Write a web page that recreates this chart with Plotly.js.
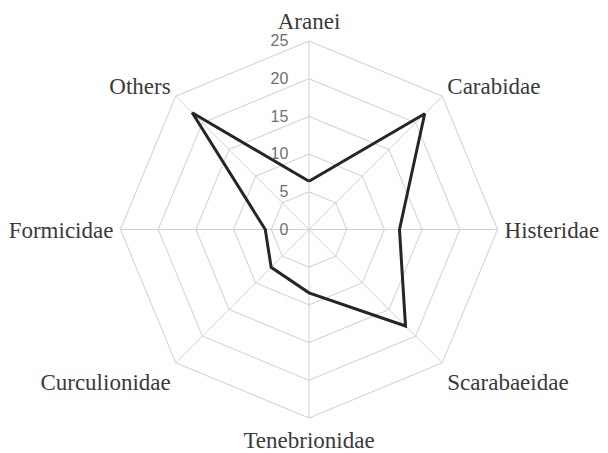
<!DOCTYPE html>
<html>
<head>
<meta charset="utf-8">
<script src="https://cdn.plot.ly/plotly-3.0.1.min.js"></script>
<style>
html,body{margin:0;padding:0;background:#fff;}
#chart{width:608px;height:453px;}
</style>
</head>
<body>
<div id="chart"></div>
<script>
const categories = ["Aranei","Carabidae","Histeridae","Scarabaeidae","Tenebrionidae","Curculionidae","Formicidae","Others"];
const values = [6.4, 21.7, 12.0, 18.1, 8.4, 7.1, 5.8, 21.9];
const radialTicks = [0, 5, 10, 15, 20, 25];
const radialLabels = ["0", "5", "10", "15", "20", "25"];

const trace = {
  type: "scatterpolar",
  mode: "lines",
  r: values.concat([values[0]]),
  theta: categories.concat([categories[0]]),
  line: {color: "#262626", width: 3},
  hoverinfo: "skip"
};

const layout = {
  width: 608,
  height: 453,
  margin: {l: 120, r: 110, t: 41, b: 35, pad: 0},
  paper_bgcolor: "#ffffff",
  plot_bgcolor: "#ffffff",
  showlegend: false,
  polar: {
    bgcolor: "#ffffff",
    gridshape: "linear",
    angularaxis: {
      direction: "clockwise",
      rotation: 90,
      tickfont: {family: "Liberation Serif, Times New Roman, serif", size: 23, color: "#3a3a3a"},
      showline: true,
      linecolor: "#cfcfcf",
      linewidth: 1,
      gridcolor: "#cfcfcf",
      gridwidth: 1,
      ticks: "outside",
      ticklen: 2,
      tickcolor: "rgba(0,0,0,0)"
    },
    radialaxis: {
      range: [0, 25],
      tickvals: radialTicks,
      ticktext: radialLabels.map(s => s + "\u00a0\u00a0\u00a0\u00a0"),
      angle: 90,
      tickangle: 90,
      side: "counterclockwise",
      showline: false,
      ticks: "",
      gridcolor: "#cfcfcf",
      gridwidth: 1,
      tickfont: {family: "Liberation Sans, Arial, sans-serif", size: 16, color: "#707070"}
    }
  }
};

Plotly.newPlot("chart", [trace], layout, {staticPlot: true, displayModeBar: false});
</script>
</body>
</html>
